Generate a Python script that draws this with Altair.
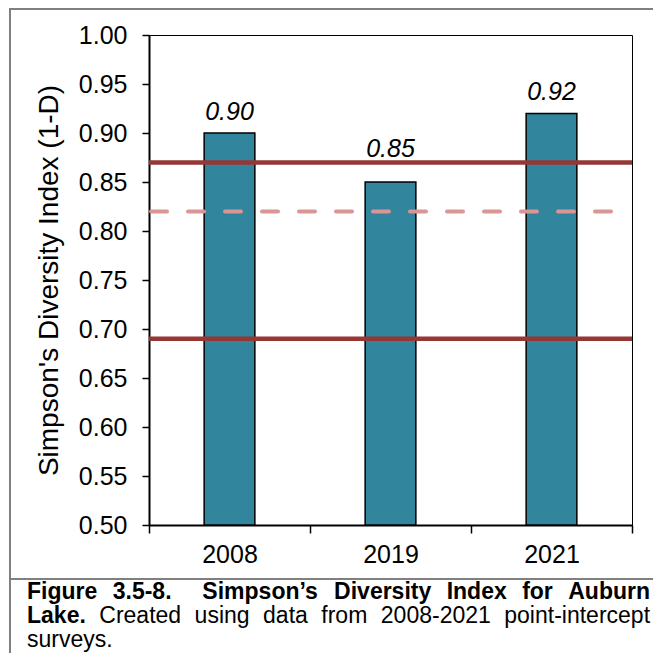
import altair as alt
import pandas as pd

# ---- data ----
years = ["2008", "2019", "2021"]
simpson = [0.90, 0.85, 0.92]
label_text = ["0.90", "0.85", "0.92"]
label_raised = [False, True, False]      # 2019 label sits above the upper reference line
solid_refs = [0.87, 0.69]
dashed_refs = [0.82]
y_ticks = [0.50, 0.55, 0.60, 0.65, 0.70, 0.75, 0.80, 0.85, 0.90, 0.95, 1.00]
y_title = "Simpson's Diversity Index (1-D)"

caption_line1 = ["Figure", "3.5-8.", "Simpson\u2019s", "Diversity", "Index", "for", "Auburn"]
caption_line1_gaps = [1, 2, 1, 1, 1, 1]
caption_line2 = ["Lake.", "Created", "using", "data", "from", "2008-2021", "point-intercept"]
caption_line2_bold = [True, False, False, False, False, False, False]
caption_line3 = ["surveys."]

# ---- styling / layout ----
FONT = "Liberation Sans"
W, H = 483, 490
PAD = {"left": 141, "top": 27, "right": 21, "bottom": 128}   # total 645 x 645 (fits the page with its 8px margins)
BAR_FILL = "#31859C"
SOLID = "#953735"
DASHED = "#D99694"
GREY = "#808080"
CAP_SIZE = 23

df = pd.DataFrame({"year": years, "value": simpson, "label": label_text, "raised": label_raised})
solid_df = pd.DataFrame({"value": solid_refs})
dashed_df = pd.DataFrame({"value": dashed_refs})
one = alt.Data(values=[{"k": 1}])

# Arial / Liberation Sans advance widths (per 1000 em)
REG = dict(zip("abcdefghiklmnoprstuvxyCDFILSA0123456789.-\u2019'",
               [556, 556, 500, 556, 556, 278, 556, 556, 222, 500, 222, 833, 556, 556, 556, 333, 500, 278, 556, 500, 500, 500,
                722, 722, 611, 278, 556, 667, 667] + [556] * 10 + [278, 333, 222, 191]))
BOLD = dict(zip("abcdefghiklmnoprstuvxyCDFILSA0123456789.-\u2019'",
                [556, 611, 556, 611, 556, 333, 611, 611, 278, 556, 278, 889, 611, 611, 611, 389, 556, 333, 611, 556, 556, 556,
                 722, 722, 611, 278, 611, 667, 722] + [556] * 10 + [278, 333, 278, 238]))


def tw(s, bold, size):
    t = BOLD if bold else REG
    return sum(t.get(c, 556) for c in s) * size / 1000.0


def justify(words, bolds, gaps, left, right, size):
    widths = [tw(w, b, size) for w, b in zip(words, bolds)]
    extra = (right - left - sum(widths)) / float(sum(gaps))
    xs, x = [], left
    for i, w in enumerate(widths):
        xs.append(x)
        if i < len(gaps):
            x += w + extra * gaps[i]
    return xs


x_scale = alt.Scale(paddingInner=0, paddingOuter=0)
y_scale = alt.Scale(domain=[0.5, 1.0], nice=False, zero=False)

x_axis = alt.Axis(tickBand="extent", labelAngle=0, labelFontSize=25, labelColor="black",
                  labelFont=FONT, tickSize=8, tickWidth=1.5, tickColor="black",
                  domainColor="black", domainWidth=2, labelPadding=9, grid=False)
y_axis = alt.Axis(values=y_ticks, format=".2f", labelFontSize=25, labelColor="black",
                  labelFont=FONT, tickSize=7, tickWidth=1.5, tickColor="black",
                  domainColor="black", domainWidth=2, labelPadding=15, grid=False,
                  titleFont=FONT, titleFontSize=28, titleFontWeight="normal",
                  titleColor="black", titleAngle=270, titleBaseline="bottom",
                  titleAlign="center", titleX=-86, titleY=H / 2)


def X():
    return alt.X("year:N", scale=x_scale, sort=years, title=None, axis=x_axis)


def Y():
    return alt.Y("value:Q", scale=y_scale, title=y_title, axis=y_axis)


bars = alt.Chart(df).mark_bar(
    width=alt.RelativeBandSize(0.315), fill=BAR_FILL, stroke="black", strokeWidth=1.5
).encode(x=X(), y=Y(), y2=alt.datum(0.5))

labels_low = alt.Chart(df).transform_filter("!datum.raised").mark_text(
    font=FONT, fontSize=25, fontStyle="italic", color="black", baseline="alphabetic", dy=-13
).encode(x=X(), y=Y(), text="label:N")

labels_high = alt.Chart(df).transform_filter("datum.raised").mark_text(
    font=FONT, fontSize=25, fontStyle="italic", color="black", baseline="alphabetic", dy=-25
).encode(x=X(), y=Y(), text="label:N")

dashed = alt.Chart(dashed_df).mark_rule(
    color=DASHED, strokeWidth=4, strokeDash=[16, 21], strokeCap="round"
).encode(y=Y(), x=alt.value(2), x2=alt.value(W))

solid = alt.Chart(solid_df).mark_rule(color=SOLID, strokeWidth=4.5).encode(
    y=Y(), x=alt.value(0), x2=alt.value(W)
)

# outer grey frame and caption separator
L_EDGE, T_EDGE = -139, -26
R_EDGE = W + PAD["right"]
B_EDGE = H + PAD["bottom"]
frame_layers = [
    alt.Chart(one).mark_rule(color=GREY, strokeWidth=2).encode(
        x=alt.value(L_EDGE), x2=alt.value(R_EDGE), y=alt.value(T_EDGE), y2=alt.value(T_EDGE)),
    alt.Chart(one).mark_rule(color=GREY, strokeWidth=2).encode(
        x=alt.value(L_EDGE), x2=alt.value(L_EDGE), y=alt.value(T_EDGE - 1), y2=alt.value(B_EDGE)),
    alt.Chart(one).mark_rule(color=GREY, strokeWidth=2).encode(
        x=alt.value(L_EDGE), x2=alt.value(R_EDGE), y=alt.value(544), y2=alt.value(544)),
]

# caption (justified)
CAP_L, CAP_R = -122, 501
cap_layers = []
xs1 = justify(caption_line1, [True] * len(caption_line1), caption_line1_gaps, CAP_L, CAP_R, CAP_SIZE)
for w, x in zip(caption_line1, xs1):
    cap_layers.append(alt.Chart(one).mark_text(
        font=FONT, fontSize=CAP_SIZE, fontWeight="bold", align="left", baseline="alphabetic", color="black"
    ).encode(x=alt.value(x), y=alt.value(564), text=alt.value(w)))
xs2 = justify(caption_line2, caption_line2_bold, [1] * (len(caption_line2) - 1), CAP_L, CAP_R, CAP_SIZE)
for w, b, x in zip(caption_line2, caption_line2_bold, xs2):
    cap_layers.append(alt.Chart(one).mark_text(
        font=FONT, fontSize=CAP_SIZE, fontWeight="bold" if b else "normal", align="left",
        baseline="alphabetic", color="black"
    ).encode(x=alt.value(x), y=alt.value(588), text=alt.value(w)))
cap_layers.append(alt.Chart(one).mark_text(
    font=FONT, fontSize=CAP_SIZE, align="left", baseline="alphabetic", color="black"
).encode(x=alt.value(CAP_L), y=alt.value(612), text=alt.value(caption_line3[0])))

chart = alt.layer(
    bars, dashed, solid, labels_low, labels_high, *frame_layers, *cap_layers
).properties(
    width=W, height=H, padding=PAD, autosize=alt.AutoSizeParams(type="none"), background="white"
).configure(font=FONT).configure_view(stroke="black", strokeWidth=1)

chart.save("out.html", embed_options={"renderer": "svg", "actions": False})
